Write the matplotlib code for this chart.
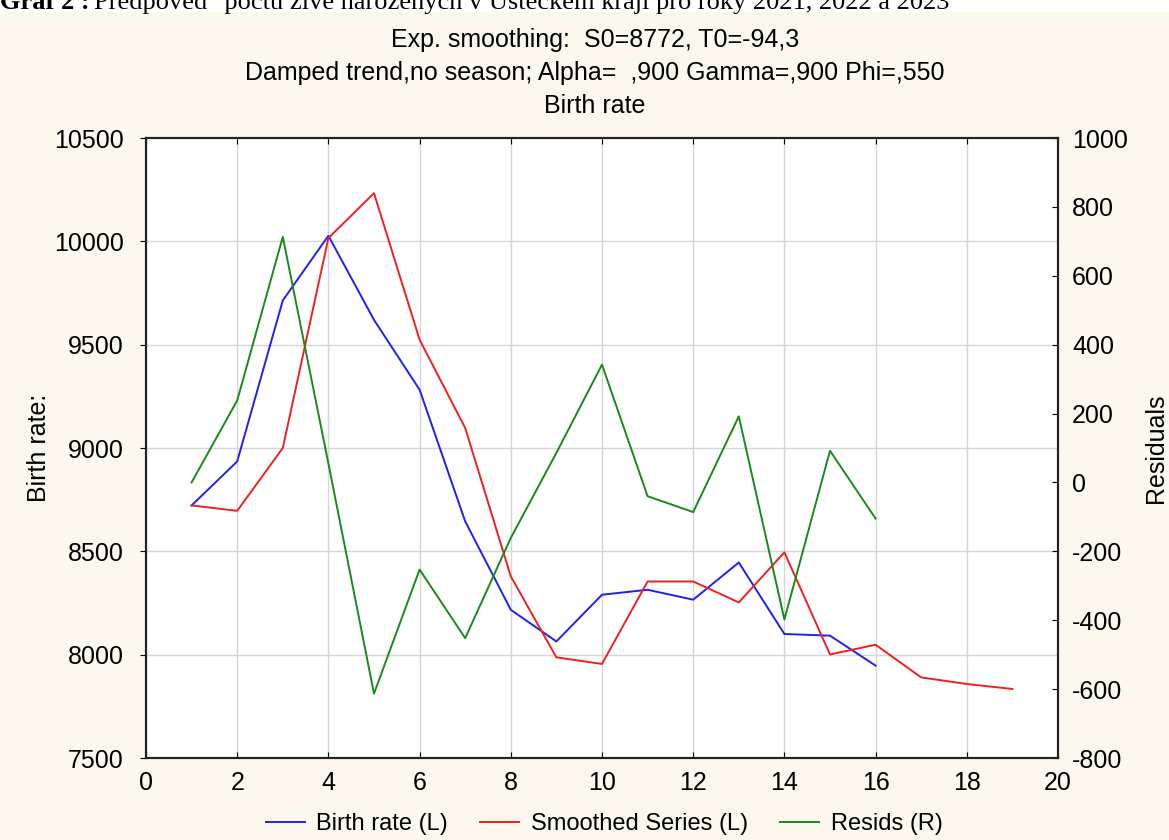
import matplotlib
matplotlib.use("Agg")
import matplotlib.pyplot as plt
from matplotlib.patches import Rectangle

# Data
periods = list(range(1, 20))
birth_rate = [8722, 8935, 9714, 10027, 9620, 9282, 8645, 8217, 8064, 8290,
              8314, 8266, 8446, 8100, 8092, 7947]
smoothed = [8722, 8696, 9000, 10016, 10233, 9524, 9097, 8379, 7987, 7955,
            8354, 8354, 8253, 8495, 8001, 8048, 7890, 7858, 7834]
resids = [0, 238, 713, 55, -613, -253, -452, -161, 86, 342,
          -40, -86, 192, -398, 92, -105]

left_ticks = [7500, 8000, 8500, 9000, 9500, 10000, 10500]
right_ticks = [-800, -600, -400, -200, 0, 200, 400, 600, 800, 1000]
x_ticks = list(range(0, 21, 2))

title_lines = [
    "Exp. smoothing:  S0=8772, T0=-94,3",
    "Damped trend,no season; Alpha=  ,900 Gamma=,900 Phi=,550",
    "Birth rate",
]
caption_bold = "Graf 2 :"
caption_rest = ("Předpověď  počtu živě narozených v Ústeckém kraji "
                "pro roky 2021, 2022 a 2023")

plt.rcParams['font.family'] = ['Liberation Sans', 'DejaVu Sans']
plt.rcParams['axes.unicode_minus'] = False

W, H = 1169, 840
FS = 18
fig = plt.figure(figsize=(W / 100, H / 100), dpi=100, facecolor='#fdf8ee')

# white strip at the very top with the (cut off) document caption
fig.patches.append(Rectangle((0, 1 - 12 / H), 1, 12 / H, transform=fig.transFigure,
                             facecolor='white', edgecolor='none', zorder=0))
t_bold = fig.text(0.0, 1 - 9 / H, caption_bold, fontsize=19, fontweight='bold',
                  family=['Liberation Serif'], va='baseline', ha='left')
renderer = fig.canvas.get_renderer()
bold_w = t_bold.get_window_extent(renderer).width
fig.text((bold_w + 4) / W, 1 - 9 / H, caption_rest, fontsize=19,
         family=['Liberation Serif'], va='baseline', ha='left')

# title lines
for i, line in enumerate(title_lines):
    fig.text(595 / W, 1 - (40 + 33 * i) / H, line, fontsize=FS,
             ha='center', va='center')

ax = fig.add_axes([146 / W, (H - 758) / H, (1058 - 146) / W, (758 - 138) / H])
ax.set_facecolor('white')
ax2 = ax.twinx()

l1, = ax.plot(periods[:len(birth_rate)], birth_rate, color='#2020f0', lw=1.4,
              label='Birth rate (L)')
l2, = ax.plot(periods[:len(smoothed)], smoothed, color='#f02020', lw=1.4,
              label='Smoothed Series (L)')
l3, = ax2.plot(periods[:len(resids)], resids, color='#1a8a1a', lw=1.4,
               label='Resids (R)')

ax.set_xlim(0, 20)
ax.set_ylim(7500, 10500)
ax2.set_ylim(-800, 1000)
ax.set_xticks(x_ticks)
ax.set_yticks(left_ticks)
ax2.set_yticks(right_ticks)

ax.grid(True, color='#d6d6d6', lw=1.0)
ax.set_axisbelow(True)

for a in (ax, ax2):
    for s in a.spines.values():
        s.set_color('#222222')
        s.set_linewidth(1.5)

ax.tick_params(axis='y', direction='out', length=4, labelsize=FS, pad=12)
ax.tick_params(axis='x', direction='in', length=4, labelsize=FS, pad=9, top=True)
ax2.tick_params(axis='y', direction='in', length=4, labelsize=FS, pad=10)

ax.set_ylabel('Birth rate:', fontsize=FS, labelpad=2)
ax2.set_ylabel('Residuals', fontsize=FS, rotation=90, labelpad=12)

fig.legend(handles=[l1, l2, l3], loc='center', bbox_to_anchor=(604 / W, 1 - 824 / H),
           ncol=3, frameon=False, fontsize=17, handlelength=1.65,
           handletextpad=0.5, columnspacing=1.35)

fig.savefig('out.png', dpi=100, facecolor=fig.get_facecolor())
